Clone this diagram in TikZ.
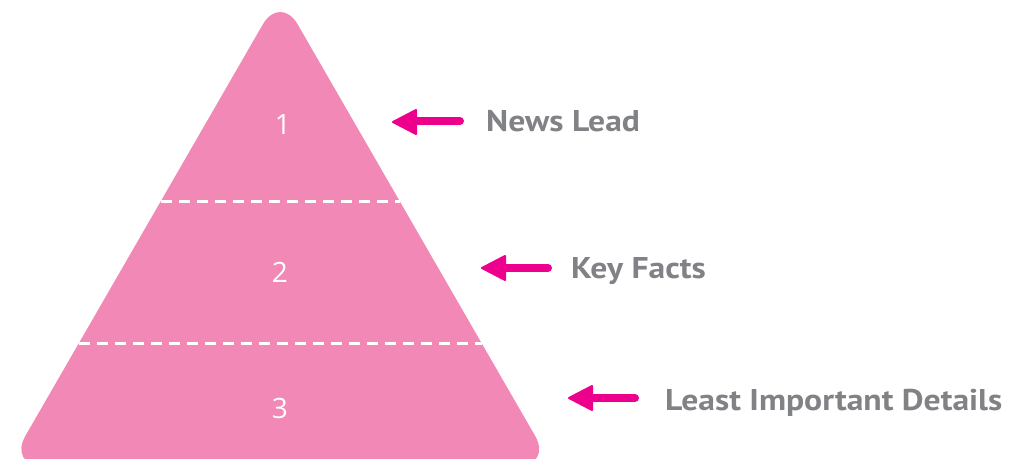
\documentclass[tikz,border=0pt]{standalone}
\usepackage{fontspec}
\setmainfont{PT Sans}
\newfontfamily\lblfont[FakeStretch=1.12]{PT Sans}
\newfontfamily\numfont{Open Sans}
\definecolor{pyr}{HTML}{F288B6}
\definecolor{arr}{HTML}{EC008C}
\definecolor{lab}{HTML}{808285}
\begin{document}
\begin{tikzpicture}[x=1pt,y=-1pt,
 lbl/.style={anchor=base west, inner sep=0, text=lab, font=\lblfont\bfseries\fontsize{30}{30}\selectfont},
 num/.style={text=white, font=\numfont\fontsize{28}{28}\selectfont, inner sep=0},
 divider/.style={white, line width=3, dash pattern=on 11 off 7},
 shaft/.style={arr, line width=8, line cap=round},
 head/.style={fill=arr, draw=arr, line width=2, line join=round}]
\useasboundingbox (0,0) rectangle (1027,458);
\fill[pyr, rounded corners=35] (280,466) -- (552.5,466) -- (280.25,-5.8) -- (8,466) -- cycle;
% dividers
\coordinate (d1l) at (161,201); \coordinate (d1r) at (399.5,201);
\coordinate (d2l) at (79,343); \coordinate (d2r) at (481.5,343);
\draw[divider] (d1l) -- (d1r);
\draw[divider] (d2l) -- (d2r);
% numbers
\node[num] (n1) at (283,125) {1};
\node[num] (n2) at (280,272) {2};
\node[num] (n3) at (280,408) {3};
% labels
\node[lbl] (l1) at (486,131) {News Lead};
\node[lbl] (l2) at (571,278) {Key Facts};
\node[lbl] (l3) at (665,410) {Least Important Details};
% arrows
\coordinate (t1) at (460,121); \coordinate (b1) at (412,121); \coordinate (p1) at (393,122);
\coordinate (t2) at (548,268); \coordinate (b2) at (500,268); \coordinate (p2) at (482,268);
\coordinate (t3) at (635,398); \coordinate (b3) at (587,398); \coordinate (p3) at (569,398);
\draw[shaft] (t1) -- (b1);
\draw[shaft] (t2) -- (b2);
\draw[shaft] (t3) -- (b3);
\filldraw[head] (p1) -- ++(23,-12) -- ++(0,24) -- cycle;
\filldraw[head] (p2) -- ++(23,-12) -- ++(0,24) -- cycle;
\filldraw[head] (p3) -- ++(23,-12) -- ++(0,24) -- cycle;
\end{tikzpicture}
\end{document}
